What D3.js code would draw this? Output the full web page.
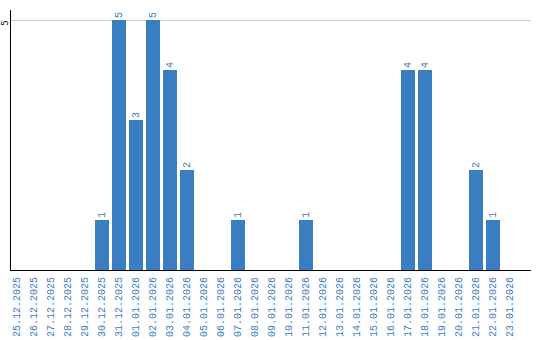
<!DOCTYPE html>
<html>
<head>
<meta charset="utf-8">
<script src="https://cdn.jsdelivr.net/npm/d3@7"></script>
<style>
  body { margin: 0; background: #fff; }
  svg { display: block; }
</style>
</head>
<body>
<div id="chart"></div>
<script>
const dates = [
  "25.12.2025", "26.12.2025", "27.12.2025", "28.12.2025", "29.12.2025",
  "30.12.2025", "31.12.2025", "01.01.2026", "02.01.2026", "03.01.2026",
  "04.01.2026", "05.01.2026", "06.01.2026", "07.01.2026", "08.01.2026",
  "09.01.2026", "10.01.2026", "11.01.2026", "12.01.2026", "13.01.2026",
  "14.01.2026", "15.01.2026", "16.01.2026", "17.01.2026", "18.01.2026",
  "19.01.2026", "20.01.2026", "21.01.2026", "22.01.2026", "23.01.2026"
];
const counts = [0, 0, 0, 0, 0, 1, 5, 3, 5, 4, 2, 0, 0, 1, 0, 0, 0, 1, 0, 0, 0, 0, 0, 4, 4, 0, 0, 2, 1, 0];
const yTicks = [5];

const svgWidth = 540;
const svgHeight = 340;
const margin = { top: 20, right: 20, bottom: 70, left: 10 };
const barColor = "#3b7dc1";
const font = "'Liberation Mono', monospace";

const data = dates.map((d, i) => ({ date: d, value: counts[i] }));

const svg = d3.select("#chart")
  .append("svg")
  .attr("width", svgWidth)
  .attr("height", svgHeight);

// step of 17px, bar 14px wide
const x = d3.scaleBand()
  .domain(dates)
  .range([margin.left, margin.left + 17 * dates.length - 3])
  .paddingInner(3 / 17)
  .paddingOuter(0);

const y = d3.scaleLinear()
  .domain([0, 5])
  .range([svgHeight - margin.bottom, margin.top]);

// gridline
svg.append("g")
  .selectAll("line")
  .data(yTicks)
  .join("line")
  .attr("x1", margin.left)
  .attr("x2", 531)
  .attr("y1", (d) => Math.round(y(d)) + 0.5)
  .attr("y2", (d) => Math.round(y(d)) + 0.5)
  .attr("stroke", "#cccccc");

// y tick labels (rotated)
svg.append("g")
  .selectAll("text")
  .data(yTicks)
  .join("text")
  .attr("transform", (d) => `translate(5,${y(d) + 3}) rotate(-90)`)
  .attr("text-anchor", "middle")
  .attr("dominant-baseline", "central")
  .attr("font-family", "'DejaVu Sans Mono', monospace")
  .attr("font-size", "9px")
  .attr("fill", "#000")
  .text((d) => d);

// bars
svg.append("g")
  .selectAll("rect")
  .data(data.filter((d) => d.value > 0))
  .join("rect")
  .attr("x", (d) => x(d.date))
  .attr("width", x.bandwidth())
  .attr("y", (d) => y(d.value))
  .attr("height", (d) => y(0) - y(d.value))
  .attr("fill", barColor);

// value labels
svg.append("g")
  .selectAll("text")
  .data(data.filter((d) => d.value > 0))
  .join("text")
  .attr("transform", (d) => `translate(${x(d.date) + x.bandwidth() / 2},${y(d.value) - 2}) rotate(-90)`)
  .attr("text-anchor", "start")
  .attr("dominant-baseline", "central")
  .attr("font-family", font)
  .attr("font-size", "10px")
  .attr("fill", barColor)
  .text((d) => d.value);

// axes lines
svg.append("line")
  .attr("x1", margin.left + 0.5)
  .attr("x2", margin.left + 0.5)
  .attr("y1", 10)
  .attr("y2", y(0))
  .attr("stroke", "#000");

svg.append("line")
  .attr("x1", margin.left)
  .attr("x2", 531)
  .attr("y1", y(0) + 0.5)
  .attr("y2", y(0) + 0.5)
  .attr("stroke", "#000");

// x labels
svg.append("g")
  .selectAll("text")
  .data(dates)
  .join("text")
  .attr("transform", (d) => `translate(${x(d) + x.bandwidth() / 2},${y(0) + 7}) rotate(-90)`)
  .attr("text-anchor", "end")
  .attr("dominant-baseline", "central")
  .attr("font-family", font)
  .attr("font-size", "10px")
  .attr("fill", barColor)
  .text((d) => d);
</script>
</body>
</html>
